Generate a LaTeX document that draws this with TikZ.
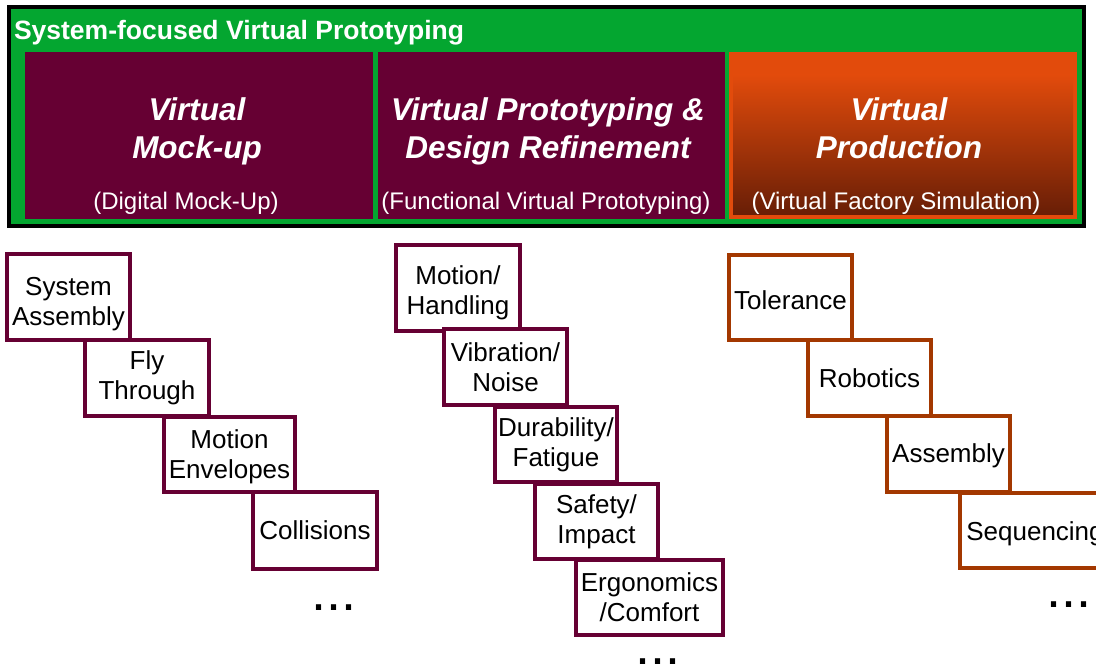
\documentclass[tikz,border=0pt]{standalone}
\usepackage{fontspec}
\setmainfont{Liberation Sans}

\definecolor{framegreen}{RGB}{4,166,48}
\definecolor{wine}{RGB}{102,0,51}
\definecolor{prodorange}{RGB}{226,75,12}
\definecolor{proddark}{RGB}{104,30,6}
\definecolor{rust}{RGB}{163,56,0}

% an invisible rule that makes a line taller, so the text sits lower in its box
\newcommand{\tallline}[1]{\rule{0pt}{#1}}

\tikzset{
  every node/.style={outer sep=0pt, inner sep=0pt},
  panel/.style={fill=wine, anchor=north west, minimum height=167pt},
  headtext/.style={text=white, align=center,
    font=\fontsize{31.5}{38}\selectfont\bfseries\itshape,
    execute at begin node=\strut, execute at end node=\strut},
  subtext/.style={text=white, anchor=base, font=\fontsize{24}{28}\selectfont},
  itembox/.style={draw=#1, line width=4pt, fill=white, align=center,
    font=\fontsize{26}{30}\selectfont},
  dotrow/.style={anchor=base west, text height=6pt, text depth=0pt,
    font=\fontsize{54}{54}\selectfont}
}

\begin{document}
\begin{tikzpicture}[x=1pt,y=-1pt]
\useasboundingbox (0,0) rectangle (1096,666);
\clip (0,0) rectangle (1096,666);

% outer frame
\node[draw=black, line width=4pt, fill=framegreen, anchor=north west,
      minimum width=1075pt, minimum height=219pt] (frame) at (9,7) {};
\node[anchor=base west, text=white, font=\fontsize{26.5}{30}\selectfont\bfseries]
  (title) at (14,40) {System-focused Virtual Prototyping};

% three phase panels
\node[panel, minimum width=348pt] (p1) at (25,52) {};
\node[panel, minimum width=347pt] (p2) at (378,52) {};
\node[fill=prodorange, anchor=north west, minimum width=348pt, minimum height=167pt]
  (p3) at (729,52) {};
\fill[prodorange] (733,55) rectangle (1073,75);
\shade[top color=prodorange, bottom color=proddark] (733,75) rectangle (1073,215);

\node[headtext] (h1) at (197,134) {Virtual\\Mock-up};
\node[headtext] (h2) at (548,134) {Virtual Prototyping \&\\Design Refinement};
\node[headtext] (h3) at (899,134) {Virtual\\Production};

\node[subtext] (s1) at (186,210) {(Digital Mock-Up)};
\node[subtext] (s2) at (546,210) {(Functional Virtual Prototyping)};
\node[subtext] (s3) at (896,210) {(Virtual Factory Simulation)};

% digital mock-up tasks
\node[itembox=wine, minimum width=123pt, minimum height=86pt] (a1) at (68.5,297) {\tallline{33pt}System\\Assembly};
\node[itembox=wine, minimum width=124pt, minimum height=76pt] (a2) at (147,378) {Fly\\Through};
\node[itembox=wine, minimum width=131pt, minimum height=75pt] (a3) at (229.5,454.5) {\tallline{23pt}Motion\\Envelopes};
\node[itembox=wine, minimum width=124pt, minimum height=77pt] (a4) at (315,530.5) {Collisions};
\node[dotrow] (ad) at (311,610.5) {...};

% functional prototyping tasks
\node[itembox=wine, minimum width=124pt, minimum height=86pt] (b1) at (458,288) {\tallline{29pt}Motion/\\Handling};
\node[itembox=wine, minimum width=123pt, minimum height=76pt] (b2) at (505.5,367) {Vibration/\\Noise};
\node[itembox=wine, minimum width=122pt, minimum height=75pt] (b3) at (556,444.5) {Durability/\\Fatigue};
\node[itembox=wine, minimum width=123pt, minimum height=75pt] (b4) at (596.5,521.5) {Safety/\\Impact};
\node[itembox=wine, minimum width=147pt, minimum height=75pt] (b5) at (649.5,597.5) {Ergonomics\\/Comfort};
\node[dotrow] (bd) at (635,664) {...};

% virtual factory tasks
\node[itembox=rust, minimum width=123pt, minimum height=85pt] (c1) at (790.5,297.5) {\tallline{25pt}Tolerance};
\node[itembox=rust, minimum width=123pt, minimum height=76pt] (c2) at (869.5,378) {Robotics};
\node[itembox=rust, minimum width=123pt, minimum height=76pt] (c3) at (948.5,454) {\tallline{23pt}Assembly};
\node[itembox=rust, minimum width=150pt, minimum height=75pt] (c4) at (1035,530.5) {\tallline{25pt}Sequencing};
\node[dotrow] (cd) at (1046,607) {...};
\end{tikzpicture}
\end{document}
